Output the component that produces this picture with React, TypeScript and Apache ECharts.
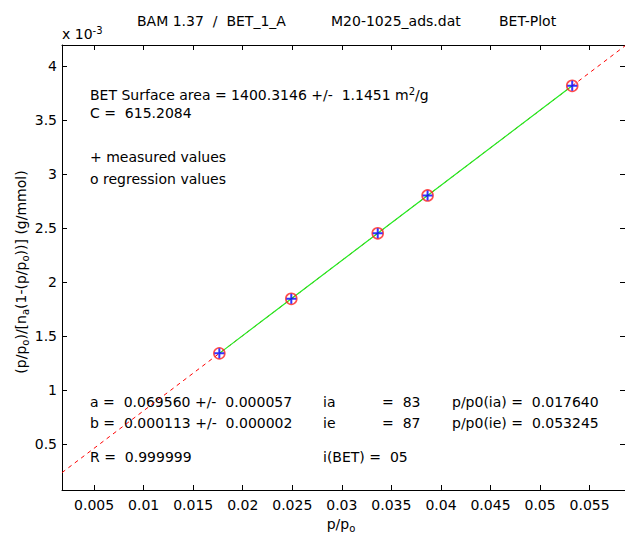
import React, { useEffect, useRef } from "react";
import * as echarts from "echarts";

const xTicks = [0.005, 0.01, 0.015, 0.02, 0.025, 0.03, 0.035, 0.04, 0.045, 0.05, 0.055];
const yTicks = [0.0005, 0.001, 0.0015, 0.002, 0.0025, 0.003, 0.0035, 0.004];
const measuredX = [0.01764, 0.0249, 0.03362, 0.03865, 0.053245];
const measuredY = [0.00134, 0.001845, 0.002452, 0.002801, 0.003817];
const regressionY = [0.00134, 0.001845, 0.002452, 0.002802, 0.003817];
const fitLineX = [0.001764, 0.05857];
const fitLineY = [0.000236, 0.004187];
const xRange = [0.001764, 0.05857];
const yRange = [0.000075, 0.004195];

const FONT = "'DejaVu Sans', Verdana, sans-serif";
const FS = 14;

function txt(x: number, y: number, text: string, extra: any = {}) {
  return {
    type: "text",
    x,
    y,
    silent: true,
    style: {
      text,
      fill: "#000",
      fontFamily: FONT,
      fontSize: FS,
      verticalAlign: "middle",
      align: "left",
      ...extra,
    },
  };
}

export default function App() {
  const ref = useRef<HTMLDivElement>(null);
  useEffect(() => {
    if (!ref.current) return;
    const chart = echarts.init(ref.current, null, { renderer: "svg" });
    const pts = (xs: number[], ys: number[]) => xs.map((x, i) => [x, ys[i]]);
    const axisCommon = {
      type: "value",
      axisLine: { show: true, onZero: false, lineStyle: { color: "#000", width: 1 } },
      splitLine: { show: false },
    };
    const rich = {
      n: { fontSize: FS, fontFamily: FONT, color: "#000" },
      s: { fontSize: 10, fontFamily: FONT, color: "#000", padding: [9, 0, 0, 0] },
      u: { fontSize: 10, fontFamily: FONT, color: "#000", padding: [0, 0, 8, 0] },
    };
    chart.setOption({
      animation: false,
      backgroundColor: "#fff",
      grid: { left: 62, top: 45, width: 565, height: 445 },
      xAxis: [
        {
          ...axisCommon,
          position: "bottom",
          min: xRange[0],
          max: xRange[1],
          axisTick: { show: true, inside: true, length: 5, customValues: xTicks, lineStyle: { color: "#000" } },
          axisLabel: {
            show: true,
            customValues: xTicks,
            formatter: (v: number) => String(parseFloat(v.toFixed(4))),
            color: "#000",
            fontSize: FS,
            fontFamily: FONT,
            margin: 8,
          },
        },
        {
          ...axisCommon,
          position: "top",
          min: xRange[0],
          max: xRange[1],
          axisTick: { show: true, inside: true, length: 5, customValues: xTicks, lineStyle: { color: "#000" } },
          axisLabel: { show: false },
        },
      ],
      yAxis: [
        {
          ...axisCommon,
          position: "left",
          min: yRange[0],
          max: yRange[1],
          axisTick: { show: true, inside: true, length: 5, customValues: yTicks, lineStyle: { color: "#000" } },
          axisLabel: {
            show: true,
            customValues: yTicks,
            formatter: (v: number) => String(parseFloat((v * 1000).toFixed(3))),
            color: "#000",
            fontSize: FS,
            fontFamily: FONT,
            margin: 5,
          },
        },
        {
          ...axisCommon,
          position: "right",
          min: yRange[0],
          max: yRange[1],
          axisTick: { show: true, inside: true, length: 5, customValues: yTicks, lineStyle: { color: "#000" } },
          axisLabel: { show: false },
        },
      ],
      series: [
        {
          type: "line",
          data: pts(fitLineX, fitLineY),
          symbol: "none",
          lineStyle: { color: "#ff0000", width: 1, type: [4, 4] },
          z: 2,
        },
        {
          type: "line",
          data: pts(measuredX, regressionY),
          symbol: "none",
          lineStyle: { color: "#22ee22", width: 1.2 },
          z: 3,
        },
        {
          type: "scatter",
          data: pts(measuredX, regressionY),
          symbol: "circle",
          symbolSize: 11,
          itemStyle: { color: "rgba(0,0,0,0)", borderColor: "#ff2020", borderWidth: 1.6 },
          z: 4,
        },
        {
          type: "scatter",
          data: pts(measuredX, measuredY),
          symbol: "path://M4,0 H6 V4 H10 V6 H6 V10 H4 V6 H0 V4 H4 Z",
          symbolSize: 10,
          itemStyle: { color: "#0000ff" },
          z: 5,
        },
      ],
      graphic: [
        txt(137, 21, "BAM 1.37  /  BET_1_A"),
        txt(331, 21, "M20-1025_ads.dat"),
        txt(499, 21, "BET-Plot"),
        {
          type: "text",
          x: 62,
          y: 34,
          style: { text: "{n|x 10}{u|-3}", rich, verticalAlign: "middle" },
        },
        {
          type: "text",
          x: 90,
          y: 95,
          style: {
            text: "{n|BET Surface area = 1400.3146 +/-  1.1451 m}{u|2}{n|/g}",
            rich,
            verticalAlign: "middle",
          },
        },
        txt(90, 113, "C =  615.2084"),
        txt(90, 157, "+ measured values"),
        txt(90, 179, "o regression values"),
        txt(90, 402, "a =  0.069560 +/-  0.000057"),
        txt(90, 423, "b =  0.000113 +/-  0.000002"),
        txt(90, 457, "R =  0.999999"),
        txt(323, 402, "ia"),
        txt(323, 423, "ie"),
        txt(382, 402, "=  83"),
        txt(382, 423, "=  87"),
        txt(323, 457, "i(BET) =  05"),
        txt(452, 402, "p/p0(ia) =  0.017640"),
        txt(452, 423, "p/p0(ie) =  0.053245"),
        {
          type: "text",
          x: 21,
          y: 272,
          rotation: Math.PI / 2,
          style: {
            text: "{n|(p/p}{s|o}{n|)/[n}{s|a}{n|(1-(p/p}{s|o}{n|))] (g/mmol)}",
            rich,
            align: "center",
            verticalAlign: "middle",
          },
        },
        {
          type: "text",
          x: 341,
          y: 524,
          style: {
            text: "{n|p/p}{s|o}",
            rich,
            align: "center",
            verticalAlign: "middle",
          },
        },
      ],
    });
    return () => chart.dispose();
  }, []);
  return (
    <div
      ref={ref}
      style={{ position: "fixed", left: 0, top: 0, width: 625, height: 539, background: "#fff" }}
    />
  );
}
